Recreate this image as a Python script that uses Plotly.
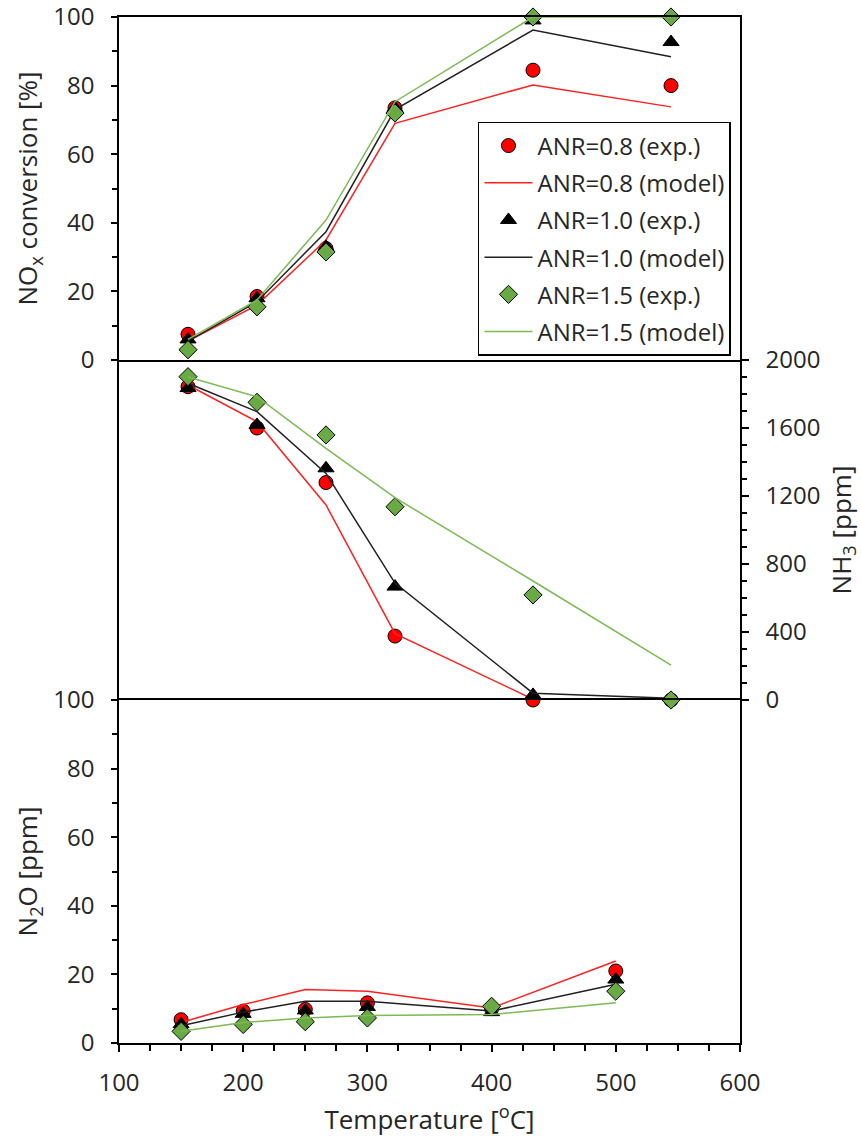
import plotly.graph_objects as go

# Reactor temperatures [°C]
temperature = [150, 200, 250, 300, 400, 500]

# NOx conversion [%]
nox_exp_08 = [7.5, 18.5, 32.5, 73.5, 84.5, 80.0]
nox_exp_10 = [6.0, 18.0, 33.0, 73.5, 99.0, 92.7]
nox_exp_15 = [3.0, 15.5, 31.5, 72.0, 100.0, 100.0]
nox_mod_08 = [5.5, 16.0, 35.0, 69.0, 80.2, 73.8]
nox_mod_10 = [5.5, 17.0, 37.4, 73.0, 96.2, 88.4]
nox_mod_15 = [6.0, 17.5, 40.8, 75.3, 100.0, 100.0]

# NH3 slip [ppm]
nh3_exp_08 = [1843, 1600, 1279, 376, 0, 0]
nh3_exp_10 = [1835, 1618, 1363, 667, 30, -25]
nh3_exp_15 = [1902, 1751, 1559, 1137, 618, 0]
nh3_mod_08 = [1853, 1637, 1147, 390, 5, 0]
nh3_mod_10 = [1863, 1696, 1333, 688, 40, 10]
nh3_mod_15 = [1900, 1784, 1480, 1190, 700, 205]

# N2O formation [ppm]
n2o_exp_08 = [6.8, 9.3, 9.8, 11.7, 10.0, 21.0]
n2o_exp_10 = [5.5, 8.5, 9.5, 10.5, 9.0, 18.5]
n2o_exp_15 = [3.4, 5.4, 6.2, 7.3, 10.7, 15.1]
n2o_mod_08 = [6.0, 11.2, 15.6, 15.1, 10.2, 23.9]
n2o_mod_10 = [5.0, 9.0, 12.2, 12.2, 9.3, 17.1]
n2o_mod_15 = [3.4, 6.0, 7.3, 8.0, 8.3, 11.7]

names = ["ANR=0.8", "ANR=1.0", "ANR=1.5"]
marker_symbols = ["circle", "triangle-up", "diamond"]
marker_fills = ["#FF0000", "#000000", "#6AAA45"]
marker_sizes = [14, 14, 14]
line_colors = ["#FF2020", "#202020", "#7DB955"]

FONT = "Open Sans"
TXT = "#262626"
fig = go.Figure()

panels = [
    ("x", "y", [nox_exp_08, nox_exp_10, nox_exp_15], [nox_mod_08, nox_mod_10, nox_mod_15], True),
    ("x2", "y2", [nh3_exp_08, nh3_exp_10, nh3_exp_15], [nh3_mod_08, nh3_mod_10, nh3_mod_15], False),
    ("x3", "y3", [n2o_exp_08, n2o_exp_10, n2o_exp_15], [n2o_mod_08, n2o_mod_10, n2o_mod_15], False),
]

for xa, ya, exps, mods, legend in panels:
    for i in range(3):
        fig.add_trace(go.Scatter(
            x=temperature, y=exps[i], xaxis=xa, yaxis=ya,
            mode="markers", name=f"{names[i]} (exp.)",
            marker=dict(symbol=marker_symbols[i], size=marker_sizes[i],
                        color=marker_fills[i], line=dict(color="#000000", width=1)),
            cliponaxis=False, showlegend=legend, legendgroup=f"e{i}",
        ))
        fig.add_trace(go.Scatter(
            x=temperature, y=mods[i], xaxis=xa, yaxis=ya,
            mode="lines", name=f"{names[i]} (model)",
            line=dict(color=line_colors[i], width=1.5),
            cliponaxis=False, showlegend=legend, legendgroup=f"m{i}",
        ))

axis_common = dict(linecolor="#000000", linewidth=1.5, showgrid=False,
                   zeroline=False, automargin=False, ticklabeloverflow="allow")
tick_font = dict(family=FONT, size=24, color=TXT)
title_font = dict(family=FONT, size=26, color=TXT)
minor_y = dict(ticks="outside", ticklen=5, tickwidth=1.5, tickcolor="#000000")

d1, d2 = 343 / 1026, 683 / 1026

fig.update_layout(
    width=861, height=1137,
    margin=dict(l=119, r=121, t=17, b=94),
    plot_bgcolor="#FFFFFF", paper_bgcolor="#FFFFFF",
    font=dict(family=FONT, size=24, color=TXT),
    # top panel: NOx conversion
    xaxis=dict(domain=[0, 1], range=[100, 550], anchor="y", showticklabels=False,
               ticks="", showline=True, mirror=True, **axis_common),
    yaxis=dict(domain=[d2, 1], range=[0, 100], anchor="x", dtick=20, ticks="outside",
               ticklen=6, tickwidth=1.5, tickcolor="#000000", tickfont=tick_font,
               ticklabelstandoff=12, minor=dict(dtick=10, **minor_y),
               title=dict(text="NO<sub>x</sub> conversion [%]", font=title_font, standoff=8),
               showline=True, mirror=True, **axis_common),
    # middle panel: NH3
    xaxis2=dict(domain=[0, 1], range=[100, 550], anchor="y2", showticklabels=False,
                ticks="", showline=False, **axis_common),
    yaxis2=dict(domain=[d1, d2], range=[0, 2000], anchor="x2", side="right", dtick=400,
                ticks="outside", ticklen=7, tickwidth=1.5, tickcolor="#000000", tickfont=tick_font,
                ticklabelstandoff=12, minor=dict(dtick=100, **minor_y),
                title=dict(text="NH<sub>3</sub> [ppm]", font=title_font, standoff=16),
                showline=True, mirror=True, **axis_common),
    # bottom panel: N2O
    xaxis3=dict(domain=[0, 1], range=[100, 600], anchor="y3", dtick=100, ticks="outside",
                ticklen=7, tickwidth=1.5, tickcolor="#000000", tickfont=tick_font,
                ticklabelstandoff=10,
                minor=dict(dtick=25, ticks="outside", ticklen=6, tickwidth=1.5, tickcolor="#000000"),
                title=dict(text="Temperature [<sup>o</sup>C]", font=title_font, standoff=14),
                showline=True, mirror=True, **axis_common),
    yaxis3=dict(domain=[0, d1], range=[0, 100], anchor="x3", dtick=20, ticks="outside",
                ticklen=6, tickwidth=1.5, tickcolor="#000000", tickfont=tick_font,
                ticklabelstandoff=12, minor=dict(dtick=10, **minor_y),
                title=dict(text="N<sub>2</sub>O [ppm]", font=title_font, standoff=8),
                showline=True, mirror=True, **axis_common),
    legend=dict(x=0.9855, xanchor="right", y=0.8977, yanchor="top",
                bgcolor="#FFFFFF", bordercolor="#000000", borderwidth=1.5,
                font=dict(family=FONT, size=24, color=TXT),
                itemwidth=48, tracegroupgap=3, traceorder="grouped"),
)

fig.write_html("out.html")
